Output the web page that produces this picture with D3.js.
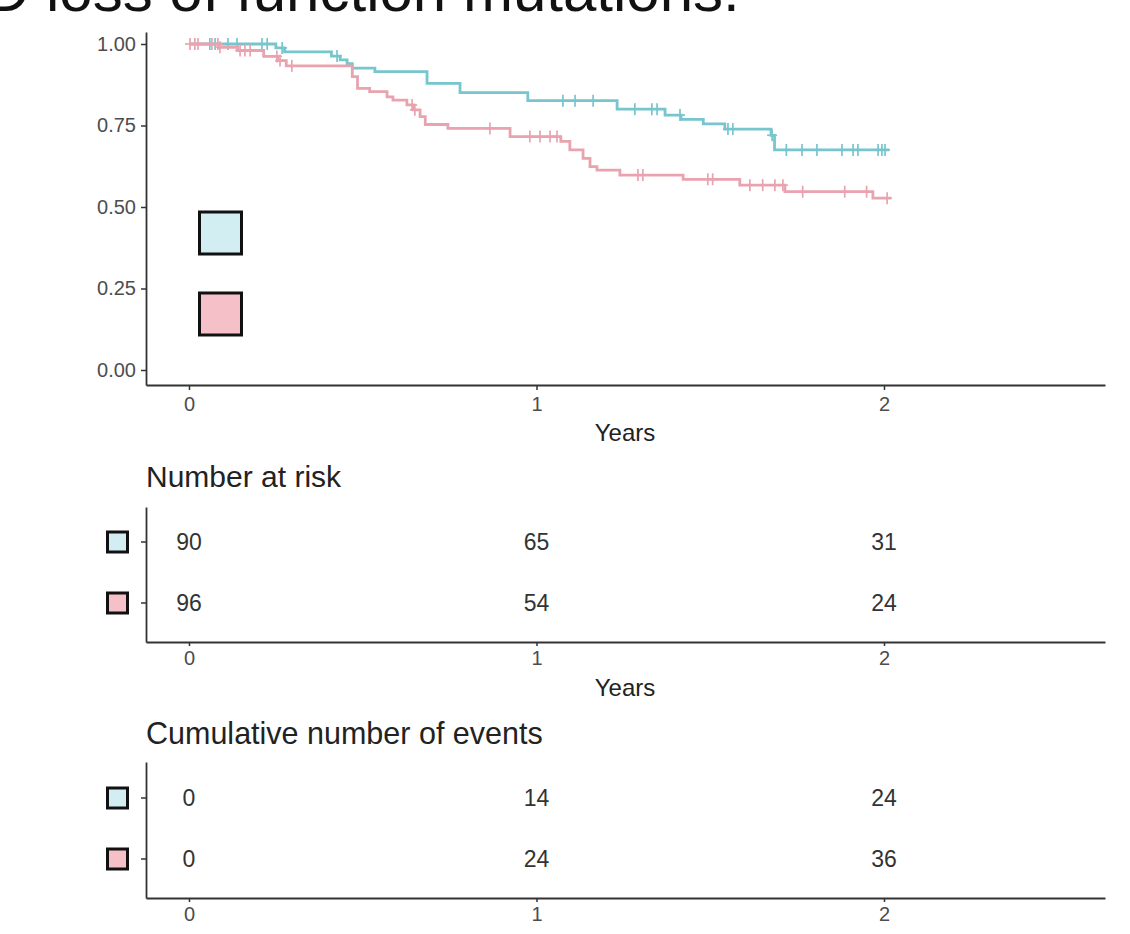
<!DOCTYPE html>
<html>
<head>
<meta charset="utf-8">
<script src="https://cdn.jsdelivr.net/npm/d3@7"></script>
<style>
  html, body { margin: 0; padding: 0; background: #fff; overflow: hidden; }
  svg { display: block; }
  text { font-family: "Liberation Sans", Arial, Helvetica, sans-serif; }
</style>
</head>
<body>
<svg id="chart" width="1130" height="934"></svg>
<script>
// ---------------- data ----------------
const titleText = "D loss of function mutations.";
const timeTicks = [0, 1, 2];
const survTicks = [0, 0.25, 0.5, 0.75, 1];
const groups = ["g1", "g2"];
const groupLine = ["#77c5cd", "#e9a3af"];
const groupFill = ["#d3eef3", "#f5c0c7"];

const blueTimes = [0, 0.25, 0.275, 0.41, 0.435, 0.455, 0.47, 0.535, 0.685, 0.78, 0.975, 1.232, 1.37, 1.416, 1.48, 1.542, 1.675, 1.685, 2.015];
const blueSurv  = [1, 0.988, 0.976, 0.963, 0.951, 0.940, 0.926, 0.915, 0.879, 0.851, 0.826, 0.800, 0.782, 0.769, 0.755, 0.739, 0.72, 0.675, 0.675];
const blueCensor = [0.06, 0.075, 0.112, 0.138, 0.21, 0.225, 0.268, 0.426, 1.076, 1.111, 1.163, 1.283, 1.332, 1.347, 1.413, 1.551, 1.565, 1.678, 1.719, 1.764, 1.807, 1.879, 1.911, 1.925, 1.983, 1.994, 2.003];

const pinkTimes = [0, 0.085, 0.14, 0.215, 0.255, 0.28, 0.47, 0.485, 0.52, 0.57, 0.587, 0.627, 0.645, 0.665, 0.68, 0.745, 0.924, 1.07, 1.096, 1.134, 1.154, 1.174, 1.24, 1.422, 1.585, 1.715, 1.968, 2.02];
const pinkSurv  = [1, 0.99, 0.98, 0.962, 0.949, 0.933, 0.90, 0.864, 0.854, 0.838, 0.828, 0.813, 0.798, 0.777, 0.753, 0.741, 0.716, 0.701, 0.675, 0.649, 0.624, 0.613, 0.598, 0.585, 0.567, 0.547, 0.527, 0.527];
const pinkCensor = [0.003, 0.017, 0.026, 0.066, 0.083, 0.089, 0.147, 0.161, 0.176, 0.253, 0.262, 0.296, 0.642, 0.65, 0.866, 0.981, 1.01, 1.039, 1.059, 1.292, 1.306, 1.493, 1.507, 1.614, 1.651, 1.686, 1.709, 1.766, 1.887, 1.95, 2.009];

const riskBlue = [90, 65, 31];
const riskPink = [96, 54, 24];
const eventsBlue = [0, 14, 24];
const eventsPink = [0, 24, 36];

// ---------------- layout ----------------
const svg = d3.select("#chart");
const axisColor = "#333";
const tickColor = "#4d4d4d";

// title (cut off at top, as in the source image)
svg.append("text").attr("x", -14).attr("y", 11)
  .attr("font-size", 60).attr("fill", "#111").text(titleText);

const x = d3.scaleLinear().domain([-0.1237, 2.636]).range([146, 1105]);
const y = d3.scaleLinear().domain([-0.046, 1.0368]).range([385, 32]);

function styleAxis(g, fs) {
  g.selectAll(".domain").attr("stroke", axisColor).attr("stroke-width", 1.8);
  g.selectAll(".tick line").attr("stroke", axisColor).attr("stroke-width", 1.5);
  g.selectAll(".tick text").attr("fill", tickColor).attr("font-size", fs)
    .attr("font-family", '"Liberation Sans", Arial, sans-serif');
}

// main plot axes
const gx = svg.append("g").attr("transform", "translate(0,385)")
  .call(d3.axisBottom(x).tickValues(timeTicks).tickFormat(d3.format("d")).tickSize(5).tickSizeOuter(0).tickPadding(7));
styleAxis(gx, 20);
const gy = svg.append("g").attr("transform", "translate(146,0)")
  .call(d3.axisLeft(y).tickValues(survTicks).tickFormat(d3.format(".2f")).tickSize(5).tickSizeOuter(0).tickPadding(5));
styleAxis(gy, 20);

svg.append("text").attr("x", 625).attr("y", 441).attr("text-anchor", "middle")
  .attr("font-size", 24).attr("fill", "#222").text("Years");

// curves
const line = d3.line().x(d => x(d[0])).y(d => y(d[1])).curve(d3.curveStepAfter);
function survAt(times, surv, t) {
  let s = surv[0];
  for (let i = 0; i < times.length; i++) if (times[i] <= t) s = surv[i];
  return s;
}
const series = [
  { times: blueTimes, surv: blueSurv, censor: blueCensor, color: groupLine[0] },
  { times: pinkTimes, surv: pinkSurv, censor: pinkCensor, color: groupLine[1] }
];
series.forEach(s => {
  const pts = s.times.map((t, i) => [t, s.surv[i]]);
  svg.append("path").attr("d", line(pts)).attr("fill", "none")
    .attr("stroke", s.color).attr("stroke-width", 2.8);
  const cg = svg.append("g").attr("stroke", s.color).attr("stroke-width", 1.7);
  s.censor.forEach(t => {
    const cx = x(t), cy = y(survAt(s.times, s.surv, t));
    cg.append("line").attr("x1", cx).attr("x2", cx).attr("y1", cy - 6).attr("y2", cy + 6);
    cg.append("line").attr("x1", cx - 5).attr("x2", cx + 5).attr("y1", cy).attr("y2", cy);
  });
});

// legend keys inside plot (no labels)
const legY = d3.scalePoint().domain(groups).range([233, 314]);
groups.forEach((g, i) => {
  svg.append("rect").attr("x", 199.5).attr("y", legY(g) - 21).attr("width", 42).attr("height", 42)
    .attr("fill", groupFill[i]).attr("stroke", "#111").attr("stroke-width", 3);
});

// ---------------- tables ----------------
function drawTable(top, bottom, rowsY, title, titleY, titleSize, values, yearsY) {
  svg.append("text").attr("x", 146).attr("y", titleY).attr("font-size", titleSize).attr("fill", "#222").text(title);
  const ty = d3.scalePoint().domain(groups).range(rowsY);
  const ax = svg.append("g").attr("transform", `translate(0,${bottom})`)
    .call(d3.axisBottom(x).tickValues(timeTicks).tickFormat(d3.format("d")).tickSize(4).tickSizeOuter(0).tickPadding(5));
  styleAxis(ax, 20);
  const ayScale = d3.scaleLinear().domain([0, 1]).range([bottom, top]);
  svg.append("g").attr("transform", "translate(146,0)")
    .call(d3.axisLeft(ayScale).tickValues([]).tickSizeOuter(0))
    .call(g => g.select(".domain").attr("stroke", axisColor).attr("stroke-width", 1.8));
  groups.forEach((g, i) => {
    const ry = ty(g);
    svg.append("line").attr("x1", 141).attr("x2", 146).attr("y1", ry).attr("y2", ry)
      .attr("stroke", axisColor).attr("stroke-width", 1.5);
    svg.append("rect").attr("x", 107.5).attr("y", ry - 10).attr("width", 20).attr("height", 20)
      .attr("fill", groupFill[i]).attr("stroke", "#111").attr("stroke-width", 3);
    values[i].forEach((v, j) => {
      svg.append("text").attr("x", x(timeTicks[j])).attr("y", ry).attr("dy", "0.36em")
        .attr("text-anchor", "middle").attr("font-size", 23).attr("fill", "#333").text(v);
    });
  });
  svg.append("text").attr("x", 625).attr("y", yearsY).attr("text-anchor", "middle")
    .attr("font-size", 24).attr("fill", "#222").text("Years");
}

drawTable(507, 642, [542, 603], "Number at risk", 487, 30, [riskBlue, riskPink], 696);
drawTable(762, 898, [798, 859], "Cumulative number of events", 744, 30.5, [eventsBlue, eventsPink], 952);
</script>
</body>
</html>
